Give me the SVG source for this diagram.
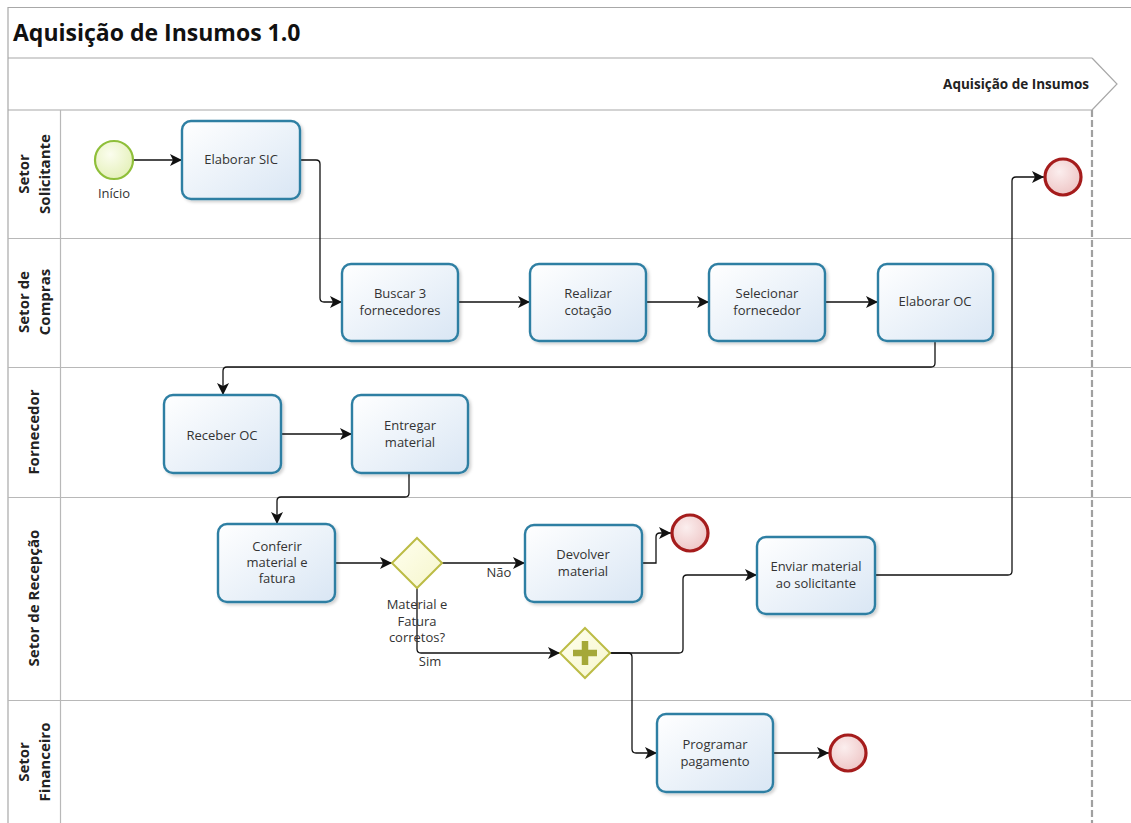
<svg xmlns="http://www.w3.org/2000/svg" width="1131" height="823" viewBox="0 0 1131 823">
<defs>
<linearGradient id="gTask" x1="0" y1="0" x2="1" y2="1"><stop offset="0" stop-color="#ffffff"/><stop offset="1" stop-color="#d9e6f4"/></linearGradient>
<radialGradient id="gStart" cx="0.4" cy="0.35" r="0.7"><stop offset="0" stop-color="#fbfdee"/><stop offset="1" stop-color="#e4f0b8"/></radialGradient>
<radialGradient id="gEnd" cx="0.4" cy="0.35" r="0.7"><stop offset="0" stop-color="#fbeeee"/><stop offset="1" stop-color="#eec4c4"/></radialGradient>
<linearGradient id="gGw" x1="0" y1="0" x2="1" y2="1"><stop offset="0" stop-color="#ffffef"/><stop offset="1" stop-color="#f6f6cc"/></linearGradient>
<filter id="sh" x="-10%" y="-10%" width="130%" height="130%"><feDropShadow dx="2" dy="2" stdDeviation="1.5" flood-color="#000" flood-opacity="0.18"/></filter>
<marker id="arr" markerUnits="userSpaceOnUse" markerWidth="13" markerHeight="12" refX="12" refY="6" orient="auto"><path d="M0,0 L12,6 L0,12 L3,6 z" fill="#111"/></marker>
<style>
.frame{fill:none;stroke:#a8a8a8;stroke-width:1.2}
.lane{stroke:#b8b8b8;stroke-width:1.2;fill:none}
.task{fill:url(#gTask);stroke:#2e7fa3;stroke-width:2.4;filter:url(#sh)}
.start{fill:url(#gStart);stroke:#8fbf3a;stroke-width:2.2}
.end{fill:url(#gEnd);stroke:#a51c1c;stroke-width:3.2}
.gw{fill:url(#gGw);stroke:#bcbc45;stroke-width:2}
.conn{fill:none;stroke:#111;stroke-width:1.3;marker-end:url(#arr)}
.t{font-family:"Open Sans","Liberation Sans",sans-serif;font-size:13px;fill:#333;text-anchor:middle}
.lh{font-family:"Open Sans","Liberation Sans",sans-serif;font-size:15px;font-weight:bold;fill:#222;text-anchor:middle}
.title{font-family:"Open Sans","Liberation Sans",sans-serif;font-size:23px;font-weight:bold;fill:#111}
.ms{font-family:"Open Sans","Liberation Sans",sans-serif;font-size:13.5px;font-weight:bold;fill:#222;text-anchor:end}
</style>
</defs>
<rect width="1131" height="823" fill="#ffffff"/>
<g id="pool">
<path class="frame" d="M8,823 V7.5 H1131 M8,58 H1092 M8,110 H1092 M1092,58 L1117,84 L1092,110"/>
<path class="lane" d="M8,238.5 H1131 M8,367.5 H1131 M8,497.5 H1131 M8,700.5 H1131 M60.5,110 V823"/>
<line x1="1092" y1="110" x2="1092" y2="823" stroke="#a0a0a0" stroke-width="2.2" stroke-dasharray="7,3"/>
<text class="title" x="13" y="41">Aquisição de Insumos 1.0</text>
<text class="ms" x="1089" y="89">Aquisição de Insumos</text>
</g>
<g id="lane-labels">
<text class="lh" transform="translate(34,174) rotate(-90)"><tspan x="0" y="-5">Setor</tspan><tspan x="0" y="16">Solicitante</tspan></text>
<text class="lh" transform="translate(34,302) rotate(-90)"><tspan x="0" y="-5">Setor de</tspan><tspan x="0" y="16">Compras</tspan></text>
<text class="lh" transform="translate(34,432) rotate(-90)"><tspan x="0" y="5">Fornecedor</tspan></text>
<text class="lh" transform="translate(34,598) rotate(-90)"><tspan x="0" y="5">Setor de Recepção</tspan></text>
<text class="lh" transform="translate(34,762) rotate(-90)"><tspan x="0" y="-5">Setor</tspan><tspan x="0" y="16">Financeiro</tspan></text>
</g>
<g id="connectors">
<path class="conn" d="M133,160 H182"/>
<path class="conn" d="M300,160 H316 Q320,160 320,164 V298 Q320,302 324,302 H342"/>
<path class="conn" d="M458,302 H530"/>
<path class="conn" d="M646,302 H709"/>
<path class="conn" d="M825,302 H878"/>
<path class="conn" d="M935,340 V363 Q935,367 931,367 H227 Q223,367 223,371 V395"/>
<path class="conn" d="M281,434 H352"/>
<path class="conn" d="M409,473 V493 Q409,497 405,497 H281 Q277,497 277,501 V524"/>
<path class="conn" d="M335,563 H392"/>
<path class="conn" d="M442,563 H525"/>
<path class="conn" d="M642,563 H656 V537 Q656,533 660,533 H671"/>
<path class="conn" d="M417,588 V649 Q417,653 421,653 H560"/>
<path class="conn" d="M610,653 H679 Q683,653 683,649 V579 Q683,575 687,575 H757"/>
<path class="conn" d="M610,653 H628 Q632,653 632,657 V749 Q632,753 636,753 H657"/>
<path class="conn" d="M875,575 H1008 Q1012,575 1012,571 V181 Q1012,177 1016,177 H1044"/>
<path class="conn" d="M773,753 H829"/>
<text class="t" x="499" y="577">Não</text>
<text class="t" x="430" y="666">Sim</text>
</g>
<g id="start">
<circle class="start" cx="114" cy="160" r="19"/>
<text class="t" x="114" y="198">Início</text>
</g>
<g id="elaborar-sic">
<rect class="task" x="182" y="121" width="118" height="78" rx="9"/>
<text class="t" x="241" y="164">Elaborar SIC</text>
</g>
<g id="buscar">
<rect class="task" x="342" y="264" width="116" height="77" rx="9"/>
<text class="t" x="400" y="298">Buscar 3</text>
<text class="t" x="400" y="315">fornecedores</text>
</g>
<g id="realizar">
<rect class="task" x="530" y="264" width="116" height="77" rx="9"/>
<text class="t" x="588" y="298">Realizar</text>
<text class="t" x="588" y="315">cotação</text>
</g>
<g id="selecionar">
<rect class="task" x="709" y="264" width="116" height="77" rx="9"/>
<text class="t" x="767" y="298">Selecionar</text>
<text class="t" x="767" y="315">fornecedor</text>
</g>
<g id="elaborar-oc">
<rect class="task" x="878" y="264" width="115" height="77" rx="9"/>
<text class="t" x="935" y="306">Elaborar OC</text>
</g>
<g id="receber-oc">
<rect class="task" x="164" y="395" width="117" height="78" rx="9"/>
<text class="t" x="222" y="440">Receber OC</text>
</g>
<g id="entregar">
<rect class="task" x="352" y="395" width="116" height="78" rx="9"/>
<text class="t" x="410" y="430">Entregar</text>
<text class="t" x="410" y="447">material</text>
</g>
<g id="conferir">
<rect class="task" x="218" y="524" width="117" height="78" rx="9"/>
<text class="t" x="277" y="551">Conferir</text>
<text class="t" x="277" y="567">material e</text>
<text class="t" x="277" y="583">fatura</text>
</g>
<g id="gateway-xor">
<path class="gw" d="M417,538 L442,563 L417,588 L392,563 Z"/>
<text class="t" x="417" y="609">Material e</text>
<text class="t" x="417" y="626">Fatura</text>
<text class="t" x="417" y="642">corretos?</text>
</g>
<g id="devolver">
<rect class="task" x="525" y="525" width="117" height="77" rx="9"/>
<text class="t" x="583" y="559">Devolver</text>
<text class="t" x="583" y="576">material</text>
</g>
<g id="end-devolver">
<circle class="end" cx="690" cy="533" r="18"/>
</g>
<g id="gateway-and">
<path class="gw" d="M585,628 L610,653 L585,678 L560,653 Z"/>
<path d="M585,641 V665 M573,653 H597" stroke="#a5a838" stroke-width="6.5" fill="none"/>
</g>
<g id="enviar">
<rect class="task" x="757" y="537" width="118" height="77" rx="9"/>
<text class="t" x="816" y="571">Enviar material</text>
<text class="t" x="816" y="588">ao solicitante</text>
</g>
<g id="end-solicitante">
<circle class="end" cx="1063" cy="177" r="18"/>
</g>
<g id="programar">
<rect class="task" x="657" y="714" width="116" height="78" rx="9"/>
<text class="t" x="715" y="749">Programar</text>
<text class="t" x="715" y="766">pagamento</text>
</g>
<g id="end-financeiro">
<circle class="end" cx="848" cy="753" r="18"/>
</g>
</svg>
